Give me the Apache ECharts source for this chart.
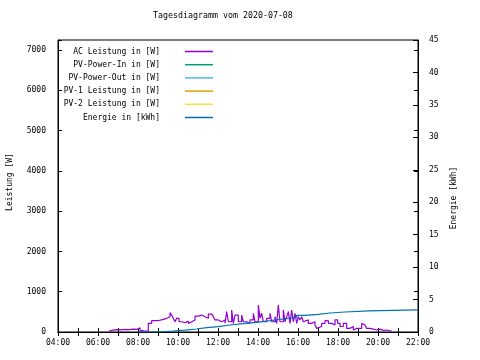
<!DOCTYPE html>
<html>
<head>
<meta charset="utf-8">
<script src="https://cdn.jsdelivr.net/npm/echarts@6/dist/echarts.min.js"></script>
<style>html,body{margin:0;padding:0;background:#fff}#c{width:480px;height:360px}</style>
</head>
<body>
<div id="c"></div>
<script>
var titleText = 'Tagesdiagramm vom 2020-07-08';
var seriesNames = ['AC Leistung in [W]', 'PV-Power-In in [W]', 'PV-Power-Out in [W]', 'PV-1 Leistung in [W]', 'PV-2 Leistung in [W]', 'Energie in [kWh]'];
var seriesColors = ['#9400d3', '#009e73', '#56b4e9', '#e69f00', '#f0e442', '#0072b2'];

var acTimes = ['06:33','06:39','06:45','06:51','06:57','07:03','07:09','07:15','07:21','07:27','07:33','07:39','07:45','07:51','07:57',
 '08:01','08:06','08:12','08:18','08:24','08:31','08:41','08:51','09:00','09:06','09:16','09:26','09:36','09:41','09:46','09:51','09:56',
 '10:03','10:11','10:21','10:31','10:36','10:41','10:51','11:01','11:11','11:21','11:31','11:41','11:46','11:51',
 '12:01','12:11','12:21','12:26','12:31','12:41','12:46','12:51','13:01','13:11','13:16','13:26','13:36','13:46','13:51',
 '14:01','14:06','14:11','14:16','14:26','14:36','14:41','14:51','14:56','15:01','15:06','15:16','15:21','15:27','15:31','15:36','15:41','15:46','15:51','15:56',
 '16:01','16:06','16:11','16:16','16:21','16:31','16:41','16:51','16:56','17:01','17:11','17:21','17:31','17:41','17:51','17:59',
 '18:06','18:16','18:26','18:36','18:46','18:51','18:56','19:01','19:11','19:16','19:21','19:26','19:36','19:46','19:56',
 '20:06','20:16','20:26','20:36','20:41'];
var acWatts = [20,45,30,60,35,55,40,65,45,60,35,70,40,65,50,
 105,40,30,60,25,215,280,280,300,315,340,380,480,420,340,255,340,
 255,230,270,215,255,300,395,420,380,340,445,420,380,300,
 255,300,215,505,255,545,215,420,255,420,255,215,300,465,255,
 670,340,465,255,340,465,255,380,215,670,255,545,255,400,505,215,545,255,465,215,
 380,300,380,255,300,215,255,175,90,136,215,280,215,175,300,215,
 136,215,90,136,50,90,60,90,215,175,150,90,70,50,70,
 40,50,30,30,15];

var energyTimes = ['07:57','09:01','09:46','10:21','10:56','11:26','12:01','12:36','13:16','13:56','14:36','15:16','15:56','16:21','17:01','17:36','18:21','19:33','22:00'];
var energyKWh = [0,0.15,0.3,0.46,0.66,0.82,1.08,1.28,1.49,1.74,2.0,2.26,2.57,2.73,2.93,3.08,3.26,3.42,3.42];

var xTicks = [4,22,1];
var yLeft = [0,7250,1000];
var yRight = [0,45,5];

function toH(t){var p=t.split(':');return +p[0]+(+p[1])/60;}
function pairs(ts,vs){return ts.map(function(t,i){return [toH(t),vs[i]];});}
function pad(n){return (n<10?'0':'')+n;}

var FONT = 'DejaVu Sans Mono';
var txt = {fontFamily:FONT,fontSize:8,color:'#000'};
var blk = {color:'#000',width:1};

var chart = echarts.init(document.getElementById('c'), null, {renderer:'canvas'});
var seriesData = [pairs(acTimes,acWatts), [], [], [], [], pairs(energyTimes,energyKWh)];
var series = seriesNames.map(function(n,i){
  return {
    name:n, type:'line', data:seriesData[i], yAxisIndex: i===5?1:0,
    step:'end', showSymbol:false, symbol:'none',
    lineStyle:{color:seriesColors[i],width:1.2}, itemStyle:{color:seriesColors[i]},
    animation:false
  };
});

chart.setOption({
  animation:false,
  backgroundColor:'#fff',
  title:{text:titleText,left:153,top:12,padding:0,textStyle:{fontFamily:FONT,fontSize:8.3,fontWeight:'normal',color:'#000'}},
  grid:{left:58,right:62,top:40,bottom:28,show:true,borderColor:'#000',borderWidth:1,containLabel:false,outerBoundsMode:'none'},
  legend:{
    orient:'vertical', right:262, top:42.5, align:'right', icon:'rect',
    itemWidth:28, itemHeight:1.5, itemGap:5.2,
    textStyle:{fontFamily:FONT,fontSize:8,color:'#000',width:102,align:'right',lineHeight:8,padding:[0,20,0,0]},
    data:seriesNames
  },
  xAxis:[
    {type:'value',min:xTicks[0],max:xTicks[1],interval:xTicks[2],position:'bottom',
     axisLine:{show:true,lineStyle:blk},axisTick:{inside:true,length:4,lineStyle:blk},
     axisLabel:Object.assign({margin:7,formatter:function(v){return v%2===0?pad(v)+':00':'';}},txt),
     splitLine:{show:false}},
    {type:'value',min:xTicks[0],max:xTicks[1],interval:xTicks[2],position:'top',
     axisLine:{show:true,lineStyle:blk},axisTick:{inside:true,length:4,lineStyle:blk},
     axisLabel:{show:false},splitLine:{show:false}}
  ],
  yAxis:[
    {type:'value',min:yLeft[0],max:yLeft[1],interval:yLeft[2],position:'left',
     name:'Leistung [W]',nameLocation:'middle',nameGap:44,nameRotate:90,
     nameTextStyle:Object.assign({padding:[0,0,0,8]},txt),
     axisLine:{show:true,lineStyle:blk},axisTick:{inside:true,length:4,lineStyle:blk},
     axisLabel:Object.assign({margin:12,formatter:function(v){return v%1000===0?String(v):'';}},txt),
     splitLine:{show:false}},
    {type:'value',min:yRight[0],max:yRight[1],interval:yRight[2],position:'right',offset:0,
     name:'Energie [kWh]',nameLocation:'middle',nameGap:32,nameRotate:90,
     nameTextStyle:Object.assign({padding:[0,24,0,0]},txt),
     axisLine:{show:true,lineStyle:blk},axisTick:{inside:true,length:5,lineStyle:blk},
     axisLabel:Object.assign({margin:11},txt),
     splitLine:{show:false}},
    {type:'value',min:yLeft[0],max:yLeft[1],interval:yLeft[2],position:'right',offset:0,
     axisLine:{show:false},axisTick:{inside:true,length:4,lineStyle:blk},
     axisLabel:{show:false},splitLine:{show:false}}
  ],
  series:series
});
</script>
</body>
</html>
